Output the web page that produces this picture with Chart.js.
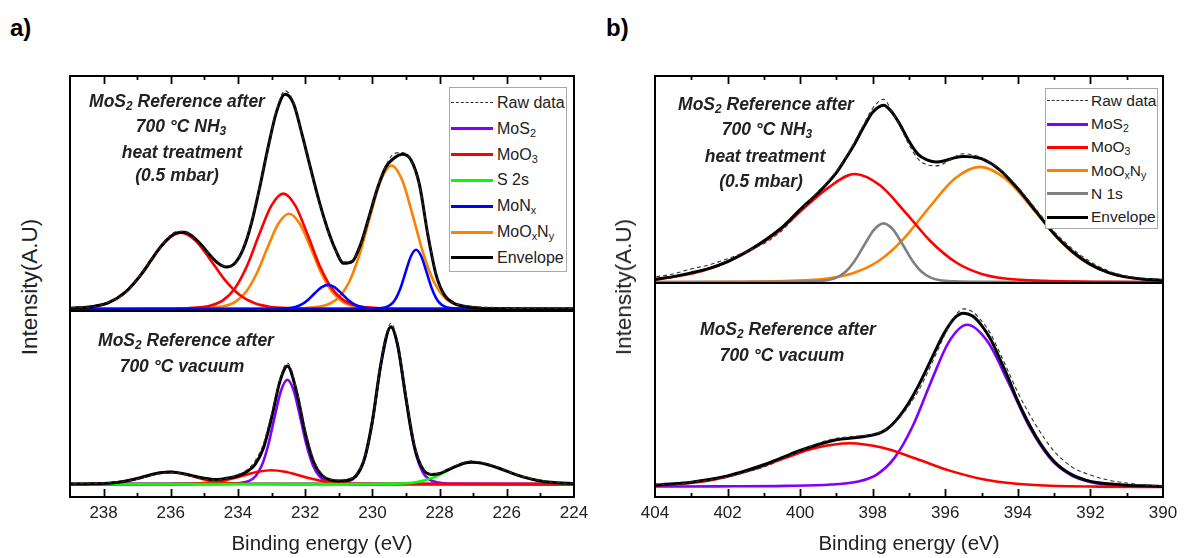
<!DOCTYPE html>
<html><head><meta charset="utf-8">
<script src="https://cdn.jsdelivr.net/npm/chart.js@4.4.0/dist/chart.umd.min.js"></script>
<style>
html,body{margin:0;padding:0;}
body{width:1195px;height:558px;background:#fff;position:relative;overflow:hidden;font-family:"Liberation Sans",Arial,sans-serif;color:#222;}
canvas{position:absolute;display:block;}
.note{position:absolute;font-weight:bold;font-style:italic;color:#222;font-size:17.5px;white-space:nowrap;transform:translate(-50%,-50%);line-height:1;}
.legend{position:absolute;border:1px solid #a8a8a8;background:#fff;box-sizing:border-box;}
.lline{position:absolute;height:0;}
.ltext{position:absolute;color:#222;white-space:nowrap;transform:translateY(-50%);line-height:1;}
sub{font-size:0.68em;position:relative;top:0.28em;vertical-align:baseline;line-height:0;}
.ytitle{position:absolute;font-size:22.5px;color:#222;white-space:nowrap;transform:translate(-50%,-50%) rotate(-90deg);}
.plabel{position:absolute;font-weight:bold;font-size:24px;color:#000;}
</style></head><body>

<canvas id="aTop" width="554" height="255" style="left:45px;top:66px"></canvas>
<canvas id="aBot" width="554" height="256" style="left:45px;top:301px"></canvas>
<canvas id="bTop" width="558" height="227" style="left:630px;top:66px"></canvas>
<canvas id="bBot" width="558" height="284" style="left:630px;top:273px"></canvas>

<div class="plabel" style="left:10px;top:14px">a)</div>
<div class="plabel" style="left:606px;top:14px">b)</div>
<div class="ytitle" style="left:30px;top:287px">Intensity(A.U)</div>
<div class="ytitle" style="left:624px;top:287px">Intensity(A.U)</div>

<div class="note" style="left:177px;top:102px">MoS<sub>2</sub> Reference after</div>
<div class="note" style="left:181px;top:127px">700 °C NH<sub>3</sub></div>
<div class="note" style="left:182px;top:153px">heat treatment</div>
<div class="note" style="left:177px;top:176px">(0.5 mbar)</div>
<div class="note" style="left:186px;top:341px">MoS<sub>2</sub> Reference after</div>
<div class="note" style="left:182px;top:367px">700 °C vacuum</div>

<div class="note" style="left:766px;top:105px">MoS<sub>2</sub> Reference after</div>
<div class="note" style="left:767px;top:130px">700 °C NH<sub>3</sub></div>
<div class="note" style="left:765px;top:157px">heat treatment</div>
<div class="note" style="left:761px;top:182px">(0.5 mbar)</div>
<div class="note" style="left:788px;top:330px">MoS<sub>2</sub> Reference after</div>
<div class="note" style="left:782px;top:356px">700 °C vacuum</div>

<div id="legA" class="legend" style="left:449px;top:87px;width:118px;height:185px"></div>
<div id="legB" class="legend" style="left:1045px;top:88px;width:113px;height:141px"></div>

<script>
// ---------- tick labels ----------
const aTicks = [238, 236, 234, 232, 230, 228, 226, 224];
const bTicks = [404, 402, 400, 398, 396, 394, 392, 390];

// ---------- panel a, top: after 700 °C NH3 ----------
const aTopEnvE = [223.85, 224.85, 225.85, 226.35, 226.85, 227.35, 227.6, 227.85, 228.1, 228.35, 228.6, 228.85, 229.1, 229.35, 229.6, 229.85, 230.1, 230.35, 230.6, 230.85, 231.1, 231.35, 231.6, 231.85, 232.1, 232.35, 232.6, 232.85, 233.1, 233.35, 233.6, 233.85, 234.1, 234.35, 234.6, 234.85, 235.1, 235.35, 235.6, 235.85, 236.1, 236.35, 236.6, 236.85, 237.35, 237.85, 238.35, 238.85, 239.2];
const aTopEnvI = [0, 0, 0.1, 0.4, 1.1, 3.3, 6.3, 13.6, 33.5, 74.0, 124.0, 148.6, 154.3, 150.6, 141.6, 120.4, 92.1, 64.5, 47.3, 45.5, 59.1, 81.2, 109.2, 141.6, 174.9, 205.0, 214.0, 197.0, 161.9, 121.9, 85.5, 59.4, 45.4, 41.9, 45.9, 54.4, 64.3, 72.4, 76.5, 75.6, 69.5, 59.9, 47.9, 35.7, 16.7, 6.3, 2.3, 1.0, 0.6];
const aTopRawI = [0.5, 0.8, 0.5, 1.5, 2.0, 4.0, 6.0, 12.5, 34.5, 75.5, 123.0, 148.0, 156.0, 155.0, 143.0, 121.5, 91.0, 63.5, 48.5, 47.0, 58.5, 80.0, 108.0, 141.0, 174.0, 206.5, 217.5, 199.0, 160.5, 123.0, 86.5, 60.5, 44.5, 42.5, 47.0, 55.0, 63.0, 72.0, 77.5, 77.0, 70.5, 59.0, 48.5, 36.5, 16.0, 7.0, 2.0, 1.5, 1.0];
const aTopMoO3aE = [224, 231.3, 232.4, 233.06, 233.5, 233.94, 234.38, 234.82, 235.26, 235.7, 236.14, 236.58, 237.02, 237.46, 237.9, 238.34, 239];
const aTopMoO3aI = [0, 0.2, 0.8, 2.3, 5.7, 13.7, 28.5, 49.0, 68.0, 76, 68.0, 49.0, 28.5, 13.7, 5.7, 2.3, 0.8];
const aTopMoO3bE = [224, 229.05, 229.95, 230.49, 230.85, 231.21, 231.57, 231.93, 232.29, 232.65, 233.01, 233.37, 233.73, 234.09, 234.45, 234.81, 235.35, 236.25, 239];
const aTopMoO3bI = [0, 0.2, 1.2, 3.5, 8.6, 20.7, 43.1, 74.2, 102.9, 115, 102.9, 74.2, 43.1, 20.7, 8.6, 3.5, 1.2, 0.2, 0];
const aTopMoOxNyaE = [224, 229.28, 230.08, 230.56, 230.88, 231.2, 231.52, 231.84, 232.16, 232.48, 232.8, 233.12, 233.44, 233.76, 234.08, 234.4, 234.88, 235.68, 239];
const aTopMoOxNyaI = [0, 0.2, 1.0, 2.9, 7.1, 17.1, 35.6, 61.3, 85.0, 95, 85.0, 61.3, 35.6, 17.1, 7.1, 2.9, 1.0, 0.2, 0];
const aTopMoOxNybE = [224, 226.23, 227.03, 227.51, 227.83, 228.15, 228.47, 228.79, 229.11, 229.43, 229.75, 230.07, 230.39, 230.71, 231.03, 231.35, 231.83, 232.63, 239];
const aTopMoOxNybI = [0, 0.3, 1.4, 4.3, 10.7, 25.7, 53.6, 92.2, 128.0, 143, 128.0, 92.2, 53.6, 25.7, 10.7, 4.3, 1.4, 0.3, 0];
const aTopMoNxaE = [224, 229.32, 229.82, 230.12, 230.32, 230.52, 230.72, 230.92, 231.12, 231.32, 231.52, 231.72, 231.92, 232.12, 232.32, 232.52, 232.82, 233.32, 239];
const aTopMoNxaI = [0, 0.05, 0.24, 0.7, 1.8, 4.3, 9.0, 15.5, 21.5, 24, 21.5, 15.5, 9.0, 4.3, 1.8, 0.7, 0.24, 0.05, 0];
const aTopMoNxbE = [224, 227.2, 227.58, 227.8, 227.95, 228.1, 228.25, 228.4, 228.55, 228.7, 228.85, 229.0, 229.15, 229.3, 229.45, 229.6, 229.83, 230.2, 239];
const aTopMoNxbI = [0, 0.1, 0.6, 1.8, 4.4, 10.6, 22.1, 38.1, 52.8, 59, 52.8, 38.1, 22.1, 10.6, 4.4, 1.8, 0.6, 0.1, 0];

// ---------- panel a, bottom: after 700 °C vacuum ----------
const aBotEnvE = [224, 224.5, 225, 225.5, 225.75, 226, 226.25, 226.5, 226.75, 227, 227.05, 227.25, 227.5, 227.75, 228, 228.25, 228.5, 228.75, 229, 229.25, 229.45, 229.75, 230, 230.25, 230.5, 230.75, 231, 231.25, 231.5, 231.75, 232, 232.25, 232.53, 232.75, 233, 233.25, 233.5, 233.75, 234, 234.25, 234.5, 234.75, 235, 235.25, 235.5, 235.75, 236, 236.25, 236.5, 236.75, 237, 237.5, 238, 238.5, 239];
const aBotEnvI = [0.5, 1.3, 3.1, 7.0, 9.7, 13.0, 16.2, 18.9, 21.1, 22.0, 22.0, 21.2, 18.0, 14.4, 10.6, 9.7, 15.1, 38.0, 86.2, 140.3, 158.4, 120.4, 63.4, 24.0, 8.0, 3.8, 3.1, 4.2, 8.6, 22.2, 51.6, 91.9, 119.0, 103.7, 67.0, 35.6, 19.4, 12.2, 8.4, 6.3, 5.0, 4.7, 5.8, 7.6, 9.6, 11.3, 12.1, 11.7, 10.2, 7.9, 5.6, 2.1, 0.6, 0.2, 0.1];
const aBotRawI = [1.0, 1.5, 3.5, 7.5, 10.0, 13.5, 17.0, 19.5, 22.0, 23.0, 23.5, 22.0, 19.0, 15.0, 11.0, 10.5, 16.0, 40.0, 88.0, 143.0, 162.0, 122.0, 62.0, 25.5, 9.0, 4.5, 4.0, 5.0, 10.0, 25.0, 55.0, 95.0, 122.0, 106.0, 71.0, 40.0, 23.0, 14.0, 9.5, 6.5, 4.5, 4.0, 5.0, 6.5, 9.0, 11.0, 11.5, 11.0, 9.5, 7.0, 5.0, 2.5, 1.0, 0.5, 0.5];
const aBotMoS2aE = [224, 230.63, 231.11, 231.39, 231.58, 231.77, 231.96, 232.15, 232.34, 232.53, 232.72, 232.91, 233.1, 233.29, 233.48, 233.67, 233.96, 234.43, 239];
const aBotMoS2aI = [0, 0.2, 1.1, 3.2, 7.9, 18.9, 39.4, 67.7, 94.0, 105, 94.0, 67.7, 39.4, 18.9, 7.9, 3.2, 1.1, 0.2, 0];
const aBotMoS2bE = [224, 227.55, 228.03, 228.31, 228.5, 228.69, 228.88, 229.07, 229.26, 229.45, 229.64, 229.83, 230.02, 230.21, 230.4, 230.59, 230.88, 231.35, 239];
const aBotMoS2bI = [0, 0.3, 1.6, 4.7, 11.9, 28.4, 59.3, 101.9, 141.4, 158, 141.4, 101.9, 59.3, 28.4, 11.9, 4.7, 1.6, 0.3, 0];
const aBotMoO3aE = [224, 232.45, 233.35, 233.89, 234.25, 234.61, 234.97, 235.33, 235.69, 236.05, 236.41, 236.77, 237.13, 237.49, 237.85, 238.21, 238.75, 239];
const aBotMoO3aI = [0, 0, 0.1, 0.4, 0.9, 2.2, 4.5, 7.7, 10.7, 12, 10.7, 7.7, 4.5, 2.2, 0.9, 0.4, 0.1, 0.1];
const aBotMoO3bE = [224, 229.0, 230.0, 230.6, 231.0, 231.4, 231.8, 232.2, 232.6, 233.0, 233.4, 233.8, 234.2, 234.6, 235.0, 235.4, 236.0, 237.0, 239];
const aBotMoO3bI = [0, 0.03, 0.14, 0.4, 1.05, 2.5, 5.3, 9.0, 12.5, 14, 12.5, 9.0, 5.3, 2.5, 1.05, 0.4, 0.14, 0.03, 0];
const aBotS2sE = [224, 224.17, 224.65, 225.13, 225.61, 226.09, 226.57, 227.05, 227.39, 227.73, 228.07, 228.41, 228.75, 229.09, 229.6, 230.45, 239];
const aBotS2sI = [0.5, 0.66, 1.65, 4.0, 8.3, 14.2, 19.7, 22, 19.7, 14.2, 8.3, 4.0, 1.65, 0.66, 0.22, 0.04, 0];

// ---------- panel b, top: after 700 °C NH3 ----------
const bTopEnvE = [390, 390.5, 391, 391.5, 392, 392.5, 393, 393.5, 394, 394.5, 395, 395.25, 395.5, 395.75, 396, 396.25, 396.5, 396.75, 397, 397.25, 397.5, 397.7, 398, 398.25, 398.5, 398.75, 399, 399.25, 399.5, 400, 400.5, 401, 401.5, 402, 402.5, 403, 403.5, 404];
const bTopEnvI = [1.7, 2.7, 4.8, 9.3, 17.4, 30.2, 47.6, 69.9, 92.3, 111.1, 122.1, 123.9, 124.2, 122.9, 120.3, 118.9, 121.0, 126.4, 139.3, 156.0, 169.5, 175.1, 168.1, 153.4, 136.7, 122.0, 108.3, 97.8, 88.4, 71.7, 54.0, 40.6, 29.4, 20.2, 13.5, 9.0, 5.3, 2.5];
const bTopRawI = [2.5, 3.5, 6, 11, 20, 33, 50, 72, 94, 112, 123, 126, 127, 124, 118, 115, 116, 122, 136, 154, 171, 181, 172, 156, 139, 123, 110, 99, 90, 70, 51, 38, 30, 23, 17, 13, 8, 5];
const bTopMoO3E = [390, 391.5, 393.25, 394.3, 395.0, 395.7, 396.4, 397.1, 397.8, 398.5, 399.2, 399.9, 400.6, 401.3, 402.0, 402.7, 403.35, 404];
const bTopMoO3I = [0, 0.2, 1.1, 3.2, 8.0, 19.3, 40.1, 69.0, 95.8, 107, 94, 73, 50, 33, 20, 11, 6, 2.5];
const bTopMoOxNyE = [390, 390.73, 391.45, 392.17, 392.89, 393.61, 394.33, 395.05, 395.75, 396.45, 397.15, 397.85, 398.55, 399.25, 400.3, 402.05, 404];
const bTopMoOxNyI = [1.7, 3.4, 8.6, 20.5, 42.8, 73.5, 102.0, 114, 102.0, 73.5, 42.8, 20.5, 8.6, 3.4, 1.1, 0.2, 0];
const bTopN1sE = [390, 395.1, 395.75, 396.14, 396.4, 396.66, 396.92, 397.18, 397.44, 397.7, 397.96, 398.22, 398.48, 398.74, 399.0, 399.26, 399.65, 400.3, 404];
const bTopN1sI = [0, 0.1, 0.6, 1.7, 4.35, 10.4, 21.8, 37.4, 51.9, 58, 51.9, 37.4, 21.8, 10.4, 4.35, 1.7, 0.6, 0.1, 0];

// ---------- panel b, bottom: after 700 °C vacuum ----------
const bBotEnvE = [390, 390.5, 391, 391.5, 392, 392.5, 393, 393.5, 394, 394.25, 394.5, 394.75, 395, 395.25, 395.5, 395.75, 396, 396.25, 396.5, 396.75, 397, 397.25, 397.5, 397.75, 398, 398.5, 399, 399.5, 400, 400.5, 401, 401.5, 402, 402.5, 403, 403.5, 404];
const bBotEnvI = [0.6, 1.2, 1.8, 3.2, 5.7, 12.2, 25.7, 50.8, 86.3, 108.4, 129.0, 148.4, 162.5, 171.8, 174.6, 169.6, 156.4, 138.9, 119.6, 101.1, 85.0, 71.8, 61.5, 55.1, 52.3, 49.6, 47.6, 42.8, 36.7, 29.5, 22.4, 16.4, 11.2, 7.5, 4.9, 3.2, 2.0];
const bBotRawI = [1, 2, 4, 7, 12, 20, 36, 62, 95, 115, 135, 154, 167, 176, 179, 171, 154, 134, 114, 96, 82, 70, 61, 56, 53, 51, 49, 44, 36, 28, 20, 15, 10, 7, 5, 2, 3];
const bBotMoS2E = [390, 391.13, 391.98, 392.55, 393.12, 393.69, 394.26, 394.83, 395.4, 395.9, 396.4, 396.9, 397.4, 397.9, 398.4, 399.15, 400.4, 402.3, 404];
const bBotMoS2I = [0.5, 1.6, 4.9, 12.2, 29.3, 61.1, 105.1, 145.9, 163, 145.9, 105.1, 61.1, 29.3, 12.2, 5.5, 2.5, 1.2, 0.7, 0.5];
const bBotMoO3E = [390, 391.74, 393.12, 394.04, 394.96, 395.88, 396.8, 397.72, 398.64, 399.56, 400.48, 401.4, 402.32, 403.24, 404];
const bBotMoO3I = [0.1, 0.44, 1.3, 3.3, 7.9, 16.5, 28.4, 39.4, 44, 39.4, 28.4, 16.5, 7.9, 3.3, 1.5];

// ---------- styling ----------
const C = {mos2:'#7f00ff', moo3:'#ff0000', s2s:'#00ff00', monx:'#0000ff', mooxny:'#ff8000', n1s:'#808080', env:'#000000', raw:'#333333'};
Chart.defaults.font.family = '"Liberation Sans", Arial, sans-serif';
Chart.defaults.color = '#222';

function pts(E, I) { return E.map((e, i) => ({x: e, y: I[i]})); }
function comp(label, E, I, color, order) {
  return {label, data: pts(E, I), borderColor: color, borderWidth: 2.6, pointRadius: 0, fill: false,
          cubicInterpolationMode: 'monotone', order};
}
function env(E, I) {
  return {label: 'Envelope', data: pts(E, I), borderColor: C.env, borderWidth: 3, pointRadius: 0, fill: false,
          cubicInterpolationMode: 'monotone', order: 1};
}
function raw(E, I) {
  return {label: 'Raw data', data: pts(E, I), borderColor: C.raw, borderWidth: 1.1, borderDash: [4, 3],
          pointRadius: 0, fill: false, cubicInterpolationMode: 'monotone', order: 0};
}

const frameTicks = {
  id: 'frameTicks',
  afterDatasetsDraw(chart, args, opts) {
    const {ctx, chartArea: a} = chart;
    const x = chart.scales.x;
    ctx.save();
    ctx.strokeStyle = '#000';
    ctx.lineWidth = 2;
    ctx.strokeRect(a.left, a.top, a.right - a.left, a.bottom - a.top);
    ctx.lineWidth = 1.8;
    const lo = Math.ceil(x.min), hi = Math.floor(x.max);
    for (let v = lo; v <= hi; v++) {
      const px = Math.round(x.getPixelForValue(v)) + 0.5;
      if (px <= a.left + 2 || px >= a.right - 2) continue;
      const len = (v % 2 === 0) ? 8 : 4;
      ctx.beginPath();
      if (opts.side === 'top') { ctx.moveTo(px, a.top); ctx.lineTo(px, a.top + len); }
      else { ctx.moveTo(px, a.bottom); ctx.lineTo(px, a.bottom - len); }
      ctx.stroke();
    }
    ctx.restore();
  }
};

function build(id, datasets, o) {
  const xs = {type: 'linear', min: o.xmin, max: o.xmax, reverse: true, display: !!o.axis,
              grid: {display: false, drawTicks: false}, border: {display: false}};
  if (o.axis) {
    xs.ticks = {autoSkip: false, maxRotation: 0, minRotation: 0, padding: 6, color: '#222', font: {size: 17}};
    xs.title = {display: true, text: 'Binding energy (eV)', color: '#222', font: {size: 20.5}, padding: 0};
    xs.afterBuildTicks = s => { s.ticks = o.ticks.map(v => ({value: v})); };
    xs.afterFit = s => { s.height = 60; };
  }
  return new Chart(document.getElementById(id), {
    type: 'line',
    data: {datasets},
    options: {
      responsive: false, animation: false, devicePixelRatio: 1, events: [],
      layout: {padding: o.pad},
      scales: {x: xs, y: {type: 'linear', display: false, min: o.ymin, max: o.ymax}},
      plugins: {legend: {display: false}, tooltip: {enabled: false}, frameTicks: {side: o.side}}
    },
    plugins: [frameTicks]
  });
}

build('aTop', [
  raw(aTopEnvE, aTopRawI), env(aTopEnvE, aTopEnvI),
  comp('MoNx', aTopMoNxaE, aTopMoNxaI, C.monx, 2), comp('MoNx', aTopMoNxbE, aTopMoNxbI, C.monx, 2),
  comp('MoO3', aTopMoO3aE, aTopMoO3aI, C.moo3, 3), comp('MoO3', aTopMoO3bE, aTopMoO3bI, C.moo3, 3),
  comp('MoOxNy', aTopMoOxNyaE, aTopMoOxNyaI, C.mooxny, 4), comp('MoOxNy', aTopMoOxNybE, aTopMoOxNybI, C.mooxny, 4)
], {xmin: 224, xmax: 239, ymin: -2, ymax: 232.3, side: 'top', pad: {left: 25, right: 25, top: 10, bottom: 10}});

build('aBot', [
  raw(aBotEnvE, aBotRawI), env(aBotEnvE, aBotEnvI),
  comp('S 2s', aBotS2sE, aBotS2sI, C.s2s, 2),
  comp('MoO3', aBotMoO3aE, aBotMoO3aI, C.moo3, 3), comp('MoO3', aBotMoO3bE, aBotMoO3bI, C.moo3, 3),
  comp('MoS2', aBotMoS2aE, aBotMoS2aI, C.mos2, 4), comp('MoS2', aBotMoS2bE, aBotMoS2bI, C.mos2, 4)
], {xmin: 224, xmax: 239, ymin: -13, ymax: 174.3, side: 'bottom', axis: true, ticks: aTicks,
    pad: {left: 25, right: 25, top: 10, bottom: 0}});

build('bTop', [
  raw(bTopEnvE, bTopRawI), env(bTopEnvE, bTopEnvI),
  comp('MoO3', bTopMoO3E, bTopMoO3I, C.moo3, 2),
  comp('N 1s', bTopN1sE, bTopN1sI, C.n1s, 3),
  comp('MoOxNy', bTopMoOxNyE, bTopMoOxNyI, C.mooxny, 4)
], {xmin: 390, xmax: 404, ymin: -1, ymax: 204, side: 'top', pad: {left: 25, right: 25, top: 10, bottom: 10}});

build('bBot', [
  raw(bBotEnvE, bBotRawI), env(bBotEnvE, bBotEnvI),
  comp('MoO3', bBotMoO3E, bBotMoO3I, C.moo3, 2),
  comp('MoS2', bBotMoS2E, bBotMoS2I, C.mos2, 3)
], {xmin: 390, xmax: 404, ymin: -10, ymax: 205, side: 'bottom', axis: true, ticks: bTicks,
    pad: {left: 25, right: 25, top: 10, bottom: 0}});

// ---------- legends ----------
const legendA = [
  ['Raw data', C.raw, true], ['MoS<sub>2</sub>', C.mos2], ['MoO<sub>3</sub>', C.moo3], ['S 2s', C.s2s],
  ['MoN<sub>x</sub>', C.monx], ['MoO<sub>x</sub>N<sub>y</sub>', C.mooxny], ['Envelope', C.env]
];
const legendB = [
  ['Raw data', C.raw, true], ['MoS<sub>2</sub>', C.mos2], ['MoO<sub>3</sub>', C.moo3],
  ['MoO<sub>x</sub>N<sub>y</sub>', C.mooxny], ['N 1s', C.n1s], ['Envelope', C.env]
];
function drawLegend(entries, x0, y0, dy, lineLen, textX, fs) {
  entries.forEach((e, i) => {
    const y = y0 + i * dy;
    const l = document.createElement('div');
    l.className = 'lline';
    l.style.left = x0 + 'px'; l.style.width = lineLen + 'px';
    if (e[2]) { l.style.borderTop = '1.2px dashed ' + e[1]; l.style.top = (y - 0.6) + 'px'; }
    else { l.style.borderTop = '3px solid ' + e[1]; l.style.top = (y - 1.5) + 'px'; }
    document.body.appendChild(l);
    const t = document.createElement('div');
    t.className = 'ltext';
    t.style.left = textX + 'px'; t.style.top = y + 'px'; t.style.fontSize = fs + 'px';
    t.innerHTML = e[0];
    document.body.appendChild(t);
  });
}
drawLegend(legendA, 451, 103, 25.8, 42, 497, 16);
drawLegend(legendB, 1047, 101, 23.2, 41, 1091, 15.5);
</script>
</body></html>
